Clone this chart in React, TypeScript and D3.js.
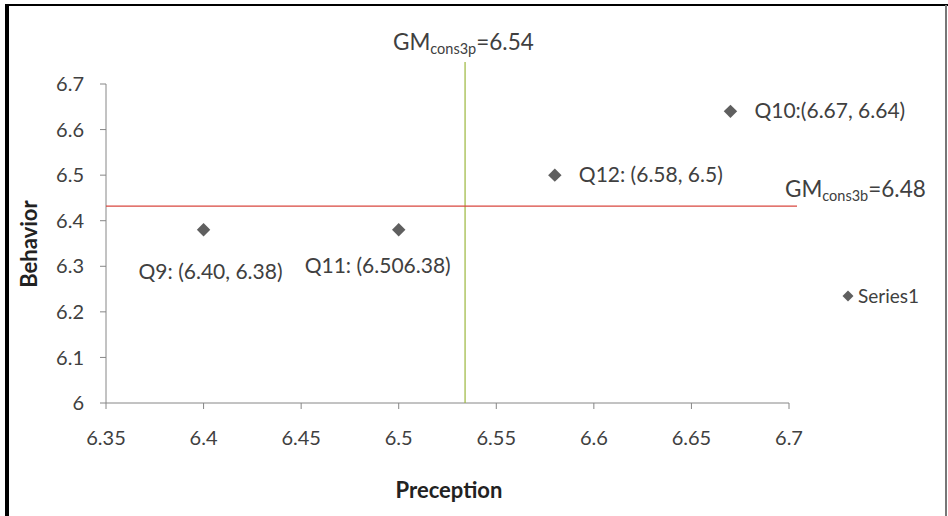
import React from "react";
import * as d3 from "d3";

// Question scores: perception (x) vs behavior (y)
const questions = ["Q9", "Q11", "Q12", "Q10"];
const perception = [6.4, 6.5, 6.58, 6.67];
const behavior = [6.38, 6.38, 6.5, 6.64];
const pointLabels = ["Q9: (6.40, 6.38)", "Q11: (6.506.38)", "Q12: (6.58, 6.5)", "Q10:(6.67, 6.64)"];

// Grand means drawn as reference lines
const gmPerception = 6.534;
const gmBehavior = 6.432;
const gmPerceptionText = "=6.54";
const gmBehaviorText = "=6.48";

const xTicks = [6.35, 6.4, 6.45, 6.5, 6.55, 6.6, 6.65, 6.7];
const yTicks = [6, 6.1, 6.2, 6.3, 6.4, 6.5, 6.6, 6.7];
const seriesName = "Series1";

const W = 948;
const H = 516;
const FONT = "Lato, 'Open Sans', sans-serif";
const TEXT = "#404040";
const AXIS = "#868686";

export default function App() {
  const x = d3.scaleLinear().domain([6.35, 6.7]).range([106, 789]);
  const y = d3.scaleLinear().domain([6, 6.7]).range([403, 84]);
  const diamond = d3.symbol(d3.symbolSquare, 90)()!;

  // label offsets relative to each marker
  const labelDx = [-65, -94, 24, 24];
  const labelDy = [49, 43, 7, 7];

  return (
    <svg
      width={W}
      height={H}
      style={{ position: "absolute", left: 0, top: 0, background: "#fff" }}
      fontFamily={FONT}
    >
      {/* frame */}
      <rect x={0} y={0} width={W} height={H} fill="#fff" />
      <line x1={7} y1={5} x2={948} y2={5} stroke="#000" strokeWidth={2} />
      <line x1={7} y1={4} x2={7} y2={516} stroke="#000" strokeWidth={4} />
      <line x1={946} y1={5} x2={946} y2={516} stroke="#777" strokeWidth={2} />

      {/* axes */}
      <line x1={x(6.35)} y1={y(6.7)} x2={x(6.35)} y2={y(6)} stroke={AXIS} />
      <line x1={x(6.35)} y1={y(6)} x2={x(6.7)} y2={y(6)} stroke={AXIS} />
      {yTicks.map((t) => (
        <g key={"y" + t}>
          <line x1={x(6.35) - 6} x2={x(6.35)} y1={y(t)} y2={y(t)} stroke={AXIS} />
          <text x={84} y={y(t)} dy="0.36em" textAnchor="end" fontSize={20} fill={TEXT}>
            {d3.format("")(t)}
          </text>
        </g>
      ))}
      {xTicks.map((t) => (
        <g key={"x" + t}>
          <line x1={x(t)} x2={x(t)} y1={y(6)} y2={y(6) + 6} stroke={AXIS} />
          <text x={x(t)} y={445} textAnchor="middle" fontSize={20} fill={TEXT}>
            {d3.format("")(t)}
          </text>
        </g>
      ))}

      {/* axis titles */}
      <text x={449} y={498} textAnchor="middle" fontSize={22} fontWeight="bold" fill="#222">
        Preception
      </text>
      <text
        transform={`translate(37,244) rotate(-90)`}
        textAnchor="middle"
        fontSize={22}
        fontWeight="bold"
        fill="#222"
      >
        Behavior
      </text>

      {/* grand mean lines */}
      <line x1={x(gmPerception)} x2={x(gmPerception)} y1={62} y2={y(6)} stroke="#9bb63c" strokeWidth={1.2} />
      <line x1={x(6.35)} x2={797} y1={y(gmBehavior)} y2={y(gmBehavior)} stroke="#d9473f" strokeWidth={1.2} />

      <text x={393} y={50} fontSize={22.5} fill={TEXT}>
        GM<tspan fontSize={14.5} dy={4}>cons3p</tspan>
        <tspan dy={-4}>{gmPerceptionText}</tspan>
      </text>
      <text x={785} y={197} fontSize={22.5} fill={TEXT}>
        GM<tspan fontSize={14.5} dy={4}>cons3b</tspan>
        <tspan dy={-4}>{gmBehaviorText}</tspan>
      </text>

      {/* points */}
      {questions.map((q, i) => (
        <g key={q}>
          <path
            d={diamond}
            transform={`translate(${x(perception[i])},${y(behavior[i])}) rotate(45)`}
            fill="#5f5f5f"
          />
          <text
            x={x(perception[i]) + labelDx[i]}
            y={y(behavior[i]) + labelDy[i]}
            fontSize={21}
            fill={TEXT}
          >
            {pointLabels[i]}
          </text>
        </g>
      ))}

      {/* legend */}
      <path d={d3.symbol(d3.symbolSquare, 60)()!} transform="translate(848,296) rotate(45)" fill="#5f5f5f" />
      <text x={858} y={303} fontSize={19} fill={TEXT}>
        {seriesName}
      </text>
    </svg>
  );
}
